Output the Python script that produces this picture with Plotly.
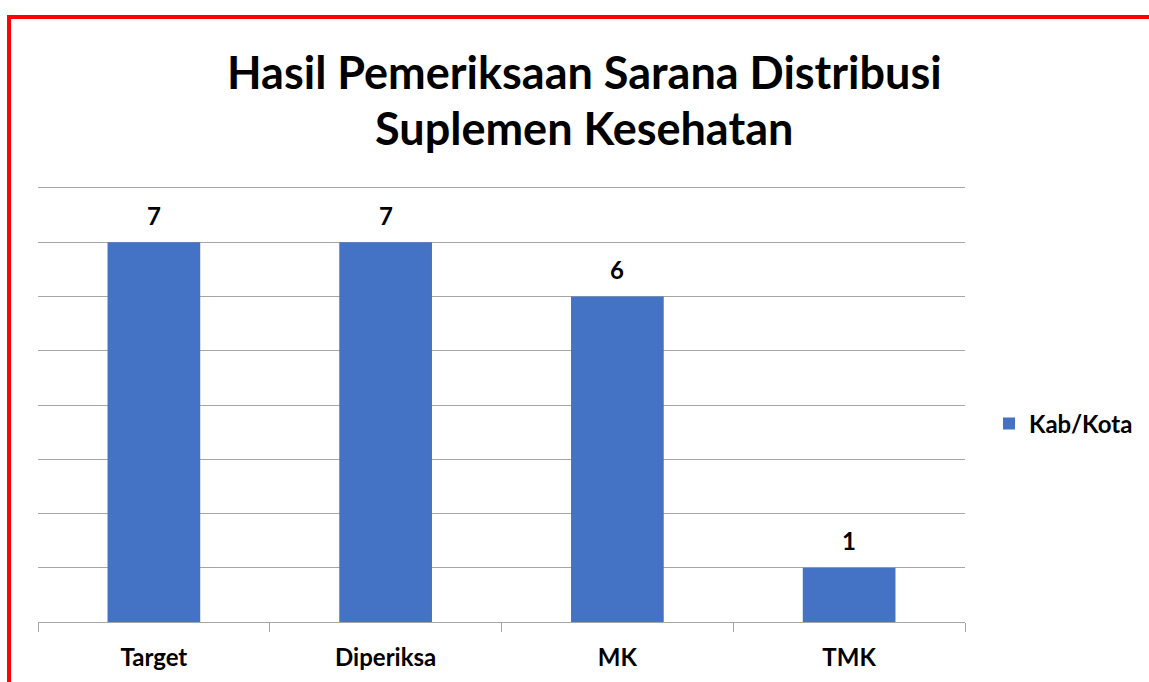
import plotly.graph_objects as go

categories = ["Target", "Diperiksa", "MK", "TMK"]
values = [7, 7, 6, 1]
series_name = "Kab/Kota"
title_lines = ["Hasil Pemeriksaan Sarana Distribusi", "Suplemen Kesehatan"]

W, H = 1149, 682
L, R, T, B = 38, 183, 188, 60
pw, ph = W - L - R, H - T - B

font_family = "Lato, 'Open Sans', sans-serif"
bar_color = "#4472C4"
grid_color = "#A6A6A6"

fig = go.Figure()
fig.add_trace(go.Bar(
    x=categories, y=values, name=f"<b>{series_name}</b>",
    marker=dict(color=bar_color, line=dict(width=0)),
    width=0.4,
))

for c, v in zip(categories, values):
    fig.add_annotation(x=c, y=v, text=f"<b>{v}</b>", showarrow=False,
                       yshift=27, font=dict(size=24, color="#000000", family=font_family))

# Title as two centred lines
for line, ypix in zip(title_lines, [72, 128]):
    fig.add_annotation(xref="paper", yref="paper", x=(585 - L) / pw, y=(H - B - ypix) / ph,
                       xanchor="center", yanchor="middle",
                       text=f"<b>{line}</b>", showarrow=False,
                       font=dict(size=45, color="#000000", family=font_family))

# Red frame around the chart
fig.add_shape(type="rect", xref="paper", yref="paper",
              x0=(9 - L) / pw, x1=(W + 20 - L) / pw,
              y0=-(B + 20) / ph, y1=(H - B - 17) / ph,
              line=dict(color="#FF0000", width=4), layer="above")

fig.update_layout(
    width=W, height=H,
    margin=dict(l=L, r=R, t=T, b=B),
    paper_bgcolor="white", plot_bgcolor="white",
    showlegend=True,
    legend=dict(x=(989 - L) / pw, y=(H - B - 424) / ph, xanchor="left", yanchor="middle",
                font=dict(size=24, color="#000000", family=font_family),
                itemwidth=30, bgcolor="rgba(0,0,0,0)"),
    font=dict(family=font_family),
)
fig.update_xaxes(
    type="category", showline=True, linecolor=grid_color, linewidth=1, mirror=True,
    ticks="outside", tickson="boundaries", ticklen=9, tickcolor=grid_color,
    showgrid=False,
    tickfont=dict(size=24, color="#000000", family=font_family),
    ticklabelstandoff=14,
    tickprefix="<b>", ticksuffix="</b>",
)
fig.update_yaxes(
    range=[0, 8], dtick=1, showgrid=True, gridcolor=grid_color, gridwidth=1,
    showticklabels=False, zeroline=False, showline=False,
)

fig.write_html("out.html")
